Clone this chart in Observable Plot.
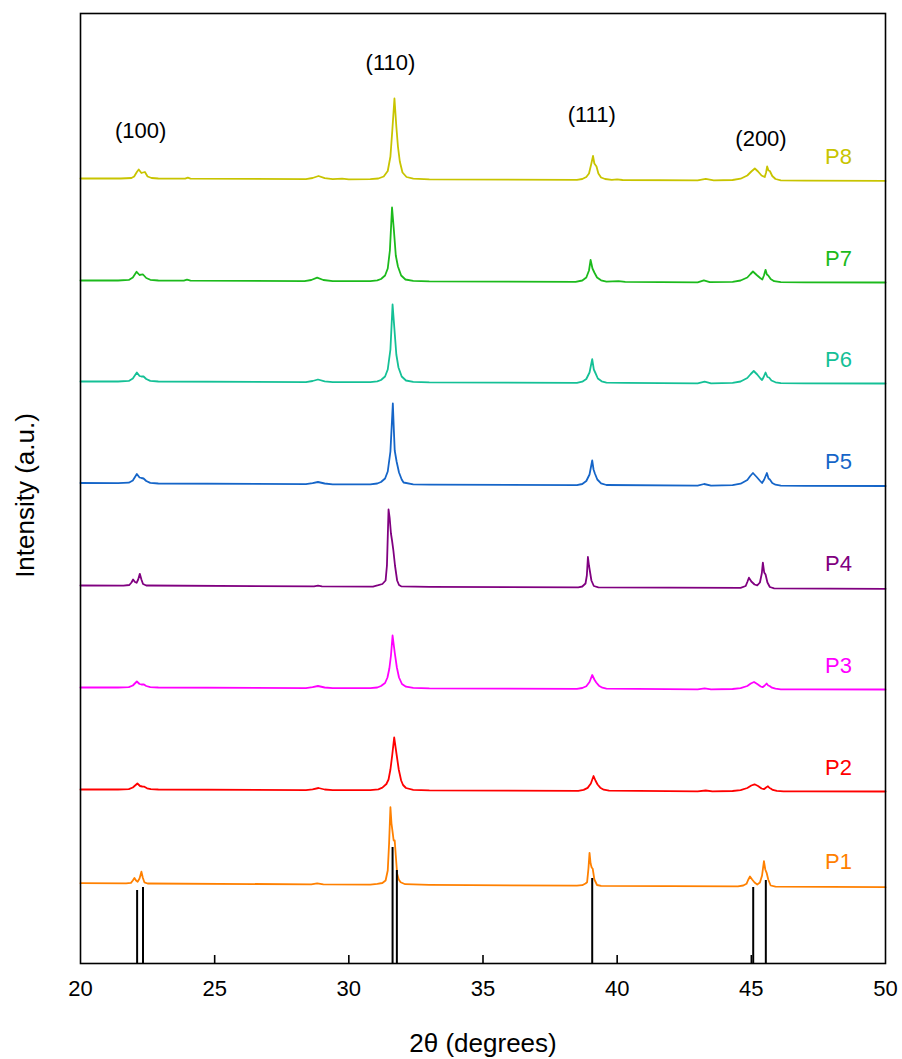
<!DOCTYPE html>
<html>
<head>
<meta charset="utf-8">
<script src="https://cdn.jsdelivr.net/npm/d3@7"></script>
<script src="https://cdn.jsdelivr.net/npm/@observablehq/plot@0.6"></script>
<style>
  html, body { margin: 0; padding: 0; background: #fff; }
  #chart svg { display: block; }
</style>
</head>
<body>
<div id="chart"></div>
<script>
// ---------- data ----------
const seriesNames = ["P1", "P2", "P3", "P4", "P5", "P6", "P7", "P8"];
const seriesColors = ["#ff8000", "#ff0000", "#ff00ff", "#800080", "#1565c8", "#14c096", "#1cba1c", "#c8c400"];
// vertical stacking offset of each pattern (a.u.)
const stackOffset = [70, 164, 266, 368, 470, 572, 673, 775];

// [2θ, intensity (a.u.)]
const p1 = [[20,10.3],[21.7,10.1],[21.88,10.6],[21.95,13],[22.01,15.5],[22.07,13],[22.13,11.8],[22.2,15],[22.27,21.8],[22.32,16],[22.38,11.2],[22.5,10],[28.6,9.2],[28.82,10.2],[29.05,9.2],[30.8,8.9],[31.06,9.7],[31.25,10.5],[31.37,13],[31.45,23],[31.5,50],[31.55,86.3],[31.59,70],[31.64,59.7],[31.67,53],[31.71,53],[31.75,38],[31.8,19.7],[31.86,14],[31.93,11.3],[32.1,9.3],[33,8.7],[38.5,7.8],[38.7,8.3],[38.82,10],[38.88,11.3],[38.93,25],[38.97,40.7],[39.01,30],[39.05,26],[39.09,24.7],[39.15,14],[39.25,8.5],[39.4,7.6],[44.5,7.1],[44.7,8],[44.82,9.7],[44.88,13.5],[44.95,17],[45.03,14],[45.12,11],[45.22,9],[45.32,11],[45.4,18],[45.47,32.3],[45.52,24],[45.57,20.7],[45.63,14],[45.72,8],[45.9,6.8],[50,6.3]];
const p2 = [[20,10],[21.4,10],[21.8,10.4],[21.95,12],[22.12,16],[22.22,13.5],[22.3,13],[22.38,12.8],[22.48,11.2],[22.62,10.3],[22.9,10],[28.4,9.4],[28.65,10.2],[28.87,11.5],[29.1,10],[29.4,9.3],[30.8,9.3],[31.1,10.2],[31.25,11.8],[31.4,15.5],[31.48,20],[31.55,30],[31.62,45],[31.69,62],[31.78,45],[31.86,30],[31.95,19],[32.02,14.5],[32.13,11.5],[32.4,9.7],[33,9.1],[38.55,8.6],[38.75,9.6],[38.9,11.6],[39.02,16],[39.12,23.5],[39.19,19],[39.27,15],[39.37,11.8],[39.5,9.8],[39.7,8.9],[43,8.2],[43.3,9],[43.55,8.2],[44.3,8.5],[44.6,9.4],[44.85,11.5],[45,14],[45.12,15.2],[45.25,13.5],[45.38,11],[45.47,10.3],[45.55,12],[45.62,13.2],[45.68,11.5],[45.72,11],[45.8,9.6],[45.95,8.6],[46.2,8.2],[47,8.1],[50,8]];
const p3 = [[20,10],[21.4,10],[21.8,10.4],[21.95,12],[22.1,16],[22.2,13.5],[22.27,13],[22.35,13.2],[22.45,11.5],[22.6,10.4],[22.9,10],[28.4,9.4],[28.65,10.3],[28.85,11.5],[29.1,10],[29.4,9.3],[30.8,9.3],[31.06,10],[31.2,11.5],[31.35,14.5],[31.44,20],[31.51,29],[31.57,42],[31.63,62],[31.71,45],[31.79,30],[31.87,20],[31.98,13.5],[32.13,10.8],[32.4,9.6],[33,9.1],[38.5,8.6],[38.7,9.5],[38.85,11.3],[38.97,15.5],[39.07,22.5],[39.15,18],[39.22,15],[39.32,11.8],[39.45,9.8],[39.6,8.9],[43,8.2],[43.26,9.2],[43.5,8.2],[44.3,8.5],[44.6,9.4],[44.85,11.5],[44.98,14],[45.1,15.5],[45.22,13.5],[45.35,11],[45.42,10.3],[45.5,12],[45.57,14],[45.63,12],[45.68,11.5],[45.77,9.8],[45.9,8.8],[46.1,8.2],[47,8.1],[50,8]];
const p4 = [[20,10],[21.6,9.9],[21.82,10.5],[21.9,13],[21.96,16],[22.03,13.5],[22.09,12.7],[22.15,16],[22.21,21.7],[22.27,16],[22.33,11.5],[22.45,10],[28.7,9.1],[28.85,9.8],[29,9.1],[30.9,8.9],[31.1,10.3],[31.25,11.5],[31.37,15],[31.42,30],[31.48,86],[31.52,78],[31.57,62],[31.61,55],[31.66,45],[31.72,30],[31.8,15],[31.87,10.5],[31.95,9.2],[33,8.7],[38.55,8.2],[38.7,9],[38.82,12],[38.87,20],[38.91,38.5],[38.95,30],[38.98,25],[39.04,15],[39.13,9.5],[39.3,8.2],[44.6,7.6],[44.79,9.5],[44.85,13.5],[44.91,17.8],[45,14],[45.12,11],[45.22,10.2],[45.32,13],[45.39,22],[45.43,32.8],[45.48,23],[45.53,21],[45.6,13],[45.69,8.5],[45.85,7.2],[50,6.7]];
const p5 = [[20,10.5],[21.4,10.3],[21.8,10.8],[21.95,13],[22.1,19.5],[22.2,16],[22.27,15.5],[22.35,15],[22.45,12.5],[22.6,10.6],[22.9,10],[28.4,9.3],[28.65,10.3],[28.85,11.5],[29.1,10],[29.4,9.2],[30.8,9.1],[31.06,10],[31.2,11.5],[31.35,15],[31.45,22],[31.55,42],[31.64,90],[31.68,62],[31.71,43],[31.78,32],[31.87,21],[31.97,14],[32.04,11],[32.4,9.2],[33,8.8],[38.5,8.3],[38.7,9.5],[38.85,12.5],[38.97,19],[39.07,33],[39.12,24],[39.17,20],[39.26,14],[39.4,10.2],[39.6,8.5],[43,7.9],[43.24,9.5],[43.5,7.9],[44.3,8.3],[44.6,9.8],[44.85,13.5],[44.96,17.5],[45.06,20.5],[45.2,16.5],[45.33,12.5],[45.4,10.5],[45.48,14],[45.58,20.5],[45.64,15],[45.69,14],[45.78,10.5],[45.9,8.8],[46.1,7.9],[47,7.7],[50,7.5]];
const p6 = [[20,10],[21.4,10],[21.8,10.6],[21.95,13],[22.1,19],[22.2,15.5],[22.27,15],[22.35,15],[22.45,12.5],[22.6,10.6],[22.9,10],[28.4,9.4],[28.65,10.5],[28.85,12],[29.1,10.2],[29.4,9.3],[30.8,9.3],[31.06,10.2],[31.2,11.5],[31.35,15],[31.45,22],[31.55,42],[31.63,87],[31.7,62],[31.77,37],[31.85,24],[31.97,15],[32.13,11],[32.4,9.6],[33,9.1],[38.5,8.6],[38.7,9.8],[38.85,12.5],[38.97,19],[39.07,32.3],[39.13,22],[39.19,18.5],[39.28,13],[39.42,10.2],[39.6,8.9],[40.3,8.6],[43,8.2],[43.26,9.8],[43.5,8.2],[44.3,8.7],[44.6,10],[44.85,13.5],[44.98,17.5],[45.09,20.5],[45.22,17],[45.34,13],[45.4,11.5],[45.46,14.5],[45.53,19],[45.6,14.5],[45.66,14],[45.75,11],[45.9,9.2],[46.1,8.3],[47,8.1],[50,8]];
const p7 = [[20,10],[21.4,10],[21.8,10.6],[21.95,13],[22.09,18.7],[22.2,15.5],[22.26,15.8],[22.33,16],[22.45,12.5],[22.6,10.7],[22.9,10],[23.85,9.8],[23.97,10.8],[24.1,9.8],[28.35,9.4],[28.6,10.5],[28.82,12.8],[29.05,10.5],[29.4,9.3],[30.8,9.3],[31.06,10.2],[31.2,11.5],[31.35,15],[31.45,22],[31.53,40],[31.61,83],[31.68,60],[31.75,35],[31.83,24],[31.95,15],[32.11,11],[32.4,9.6],[33,9.1],[38.45,8.6],[38.7,10],[38.85,13],[38.95,20],[39.01,30.5],[39.08,22],[39.15,18],[39.25,13],[39.4,10.2],[39.6,8.9],[40.05,9.3],[40.3,8.6],[43,8.2],[43.23,10.2],[43.45,8.3],[44.3,8.7],[44.6,10],[44.85,13],[44.97,16.5],[45.06,19],[45.2,15.5],[45.33,12.5],[45.41,11],[45.47,15],[45.53,20.7],[45.58,16],[45.63,15],[45.72,11.5],[45.85,9.3],[46.1,8.3],[47,8.1],[50,8]];
const p8 = [[20,10],[21.5,10],[21.9,10.5],[22,12],[22.1,16.5],[22.17,19],[22.27,15.5],[22.33,16],[22.4,16.5],[22.5,12],[22.65,10.5],[22.9,10],[23.9,9.8],[24,10.8],[24.1,9.8],[28.4,9.4],[28.65,10.5],[28.87,12.5],[29.1,10.3],[29.4,9.3],[29.75,9.8],[30,9.2],[30.8,9.3],[31.1,10],[31.3,12],[31.45,17.5],[31.55,32],[31.62,58],[31.7,90],[31.77,62],[31.83,42],[31.9,27],[32,16],[32.15,11.5],[32.4,9.8],[33,9.1],[38.5,8.6],[38.7,9.5],[38.85,11.5],[38.95,15],[39.03,24],[39.1,32.5],[39.15,25],[39.23,22],[39.3,15],[39.4,11],[39.55,9.5],[39.8,8.7],[40,9.2],[40.2,8.5],[43,8.1],[43.3,9.6],[43.6,8.1],[44.3,8.5],[44.6,9.8],[44.85,13],[45,17],[45.13,20],[45.25,17],[45.38,13],[45.5,11.5],[45.55,16],[45.59,22],[45.64,18],[45.69,17.5],[45.78,12.5],[45.9,9.5],[46.1,8.2],[47,7.8],[50,7.6]];
const seriesData = [p1, p2, p3, p4, p5, p6, p7, p8];

// reference pattern sticks
const refPos = [22.11, 22.33, 31.63, 31.79, 39.07, 45.07, 45.54];
const refInt = [73, 76, 116, 93, 85, 76, 83];

// Miller index annotations
const hklNames = ["(100)", "(110)", "(111)", "(200)"];
const hklPos = [22.24, 31.55, 39.05, 45.36];
const hklHeight = [833, 901, 849, 825];

const xTickValues = [20, 25, 30, 35, 40, 45, 50];
const xInnerTicks = [25, 30, 35, 40, 45];

// ---------- tables built from the arrays ----------
const rows = seriesData.flatMap((arr, i) =>
  arr.map(([x, v]) => ({series: seriesNames[i], x, y: v + stackOffset[i]})));
const labelRows = seriesNames.map((name, i) => ({series: name, y: stackOffset[i]}));
const sticks = refPos.map((x, i) => ({x, h: refInt[i]}));
const hkl = hklNames.map((t, i) => ({t, x: hklPos[i], y: hklHeight[i]}));

const font = "Liberation Sans, Arial, Helvetica, sans-serif";

const chart = Plot.plot({
  width: 902,
  height: 1059,
  marginLeft: 80,
  marginRight: 17,
  marginTop: 13,
  marginBottom: 96,
  style: {fontFamily: font, fontSize: "22px", background: "#fff", color: "#000"},
  x: {domain: [20, 50], label: null},
  y: {domain: [0, 950], axis: null, label: null},
  color: {domain: seriesNames, range: seriesColors},
  marks: [
    Plot.line(rows, {x: "x", y: "y", z: "series", stroke: "series", strokeWidth: 1.8}),
    Plot.ruleX(sticks, {x: "x", y1: 0, y2: "h", stroke: "#000", strokeWidth: 2}),
    Plot.frame({stroke: "#000", strokeWidth: 1.6}),
    Plot.axisX(xInnerTicks, {tickSize: 8, dy: -8, tickFormat: () => "", label: null, strokeWidth: 1.6}),
    Plot.axisX(xTickValues, {tickSize: 0, tickPadding: 17, label: null, fontSize: 22, fill: "#000"}),
    Plot.text(labelRows, {frameAnchor: "right", dx: -47, y: "y", dy: -32, text: "series", fill: "series", fontSize: 22, textAnchor: "middle"}),
    Plot.text(hkl, {x: "x", y: "y", text: "t", fontSize: 22, fill: "#000"}),
    Plot.text(["2θ (degrees)"], {frameAnchor: "bottom", dy: 80, lineAnchor: "middle", textAnchor: "middle", fontSize: 26, fill: "#000"}),
    Plot.text(["Intensity (a.u.)"], {frameAnchor: "left", dx: -55, dy: 7, rotate: -90, textAnchor: "middle", lineAnchor: "middle", fontSize: 26, fill: "#000"})
  ]
});
document.getElementById("chart").appendChild(chart);
</script>
</body>
</html>
